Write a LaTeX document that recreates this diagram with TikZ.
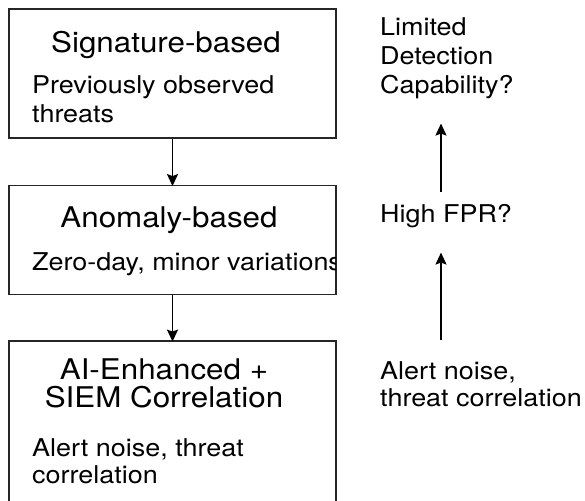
\documentclass[tikz,border=0pt]{standalone}
\usepackage{fontspec}
\setmainfont[FakeStretch=1.1]{TeX Gyre Heros}
\usetikzlibrary{arrows.meta}
\begin{document}
\begin{tikzpicture}[x=1pt,y=-1pt,
  box/.style={draw=black!85,line width=1.8pt,minimum width=327pt,inner sep=0pt},
  ttl/.style={inner sep=0pt,font=\fontsize{28.5}{28}\selectfont,align=center},
  sub/.style={inner sep=0pt,font=\fontsize{24.5}{29}\selectfont,align=left},
  arr/.style={line width=1.8pt,-{Stealth[length=12pt,width=11pt,inset=2pt]}}]
\useasboundingbox (0,0) rectangle (585,500);
\fill[white] (0,0) rectangle (585,500);
% boxes
\node[box,minimum height=129pt] (b1) at (172.5,73.5) {};
\node[box,minimum height=109pt] (b2) at (172.5,240) {};
\node[box,minimum height=200pt] (b3) at (172.5,441) {};
% box texts
\node[ttl,anchor=base] (t1) at (166,53) {Signature-based};
\node[sub,anchor=base west] (s1) at (32,122) {Previously observed\\threats};
\node[ttl,anchor=base] (t2) at (169,227) {Anomaly-based};
\begin{scope}
\clip (9,186) rectangle (335,294);
\node[sub,anchor=base west] (s2) at (32,270) {Zero-day, minor variations};
\end{scope}
\node[ttl,anchor=base] (t3) at (164,407) {AI-Enhanced +\\SIEM Correlation};
\node[sub,anchor=base west,font=\fontsize{24.5}{27}\selectfont] (s3) at (32,483) {Alert noise, threat\\correlation};
% left arrows
\draw[arr] (b1.south) -- ([yshift=-1.5pt]b2.north);
\draw[arr] (b2.south) -- ([yshift=-1.5pt]b3.north);
% right column
\coordinate (ax) at (441,0);
\node[sub,anchor=base west,font=\fontsize{24.5}{29}\selectfont] (lim) at (380,93) {Limited\\Detection\\Capability?};
\node[sub,anchor=base west] (fpr) at (380,222) {High FPR?};
\node[sub,anchor=base west,font=\fontsize{24.5}{27}\selectfont] (alert) at (380,406) {Alert noise,\\threat correlation};
\draw[arr,shorten <=12pt,shorten >=25pt] (fpr.north -| ax) -- (lim.south -| ax);
\draw[arr,shorten <=21pt,shorten >=25pt] (alert.north -| ax) -- (fpr.south -| ax);
\end{tikzpicture}
\end{document}
